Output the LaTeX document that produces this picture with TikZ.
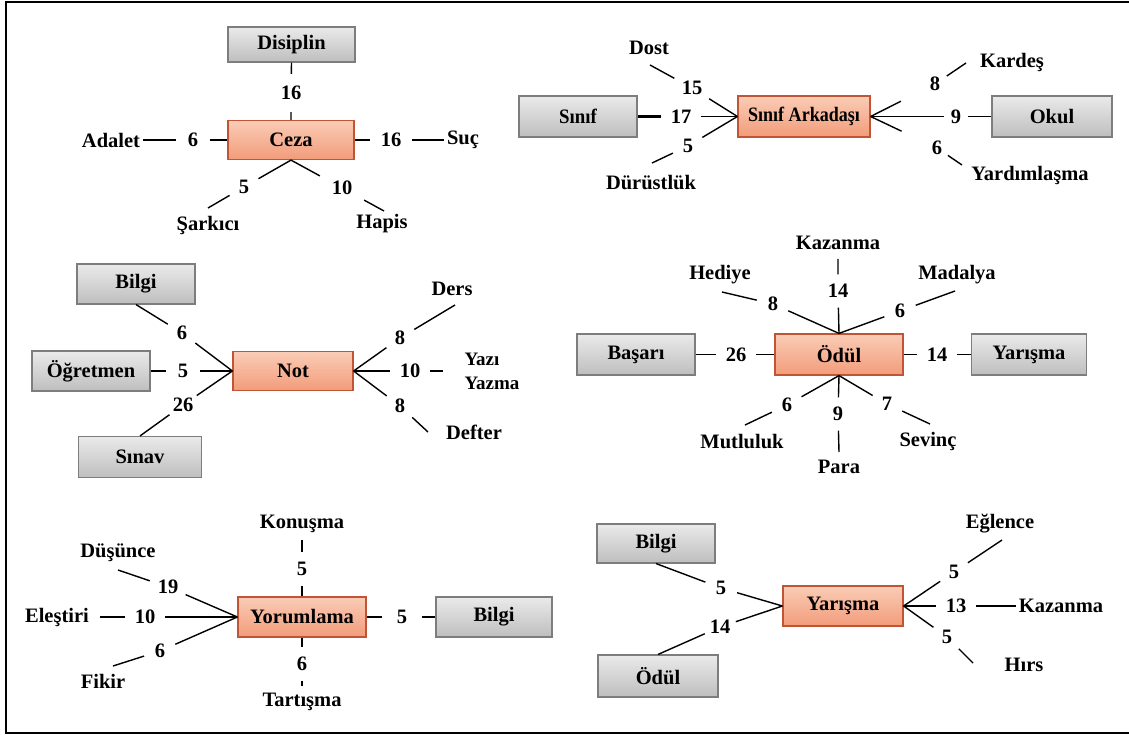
\documentclass[tikz,border=0pt]{standalone}
\usepackage{fontspec}
\setmainfont{Liberation Serif}
\definecolor{hubline}{RGB}{192,84,52}
\definecolor{hubtop}{RGB}{250,204,182}
\definecolor{hubbot}{RGB}{242,156,122}
\definecolor{boxline}{RGB}{125,125,125}
\definecolor{boxtop}{RGB}{234,234,234}
\definecolor{boxbot}{RGB}{190,190,190}
\begin{document}
\begin{tikzpicture}[x=1pt,y=-1pt,
  txt/.style={font=\fontsize{20.5}{23}\selectfont\bfseries},
  hub/.style={txt, draw=hubline, line width=1.2pt, top color=hubtop, bottom color=hubbot, inner sep=0pt},
  gbox/.style={txt, draw=boxline, line width=1.1pt, top color=boxtop, bottom color=boxbot, inner sep=0pt},
  lbl/.style={txt, inner sep=3pt},
  num/.style={txt, circle, inner sep=0pt, minimum size=33pt},
  spoke/.style={line width=1.4pt, black},
  thickspoke/.style={line width=2.6pt, black}]
\useasboundingbox (0,0) rectangle (1129,735);
\draw[line width=2.2pt] (1140,2) -- (6,2) -- (6,733) -- (1140,733);

% ---------------- Ceza ----------------
\node[hub, minimum width=126pt, minimum height=39pt] (ceza) at (291,140) {Ceza};
\node[gbox, minimum width=127pt, minimum height=35pt] (disiplin) at (291.5,44.5) {Disiplin};
\node[lbl] (adalet) at (111,140) {Adalet};
\node[lbl] (suc) at (463,140) {Suç};
\node[lbl] (sarkici) at (208,226) {Şarkıcı};
\node[lbl] (hapis) at (382,224) {Hapis};
\node[num, minimum size=38pt] (c1) at (291,93) {16};
\node[num] (c2) at (193,140) {6};
\node[num, minimum size=42pt] (c3) at (391,140) {16};
\node[num] (c4) at (244,187) {5};
\node[num, minimum size=50pt] (c5) at (342,188) {10};
\coordinate (esark) at (208,208);
\coordinate (ehap) at (384,211);
\draw[spoke] (disiplin.south) -- (c1) -- (ceza.north);
\draw[spoke] (adalet) -- (c2) -- (ceza.west);
\draw[spoke] (ceza.east) -- (c3) -- (suc);
\draw[spoke] (ceza.south) -- (c4) -- (esark);
\draw[spoke] (ceza.south) -- (c5) -- (ehap);

% ---------------- Sinif Arkadasi ----------------
\node[hub, minimum width=132pt, minimum height=41pt] (sa) at (804,116.5) {\scalebox{0.88}[1]{Sınıf Arkadaşı}};
\node[gbox, minimum width=118pt, minimum height=41pt] (sinif) at (578,116.5) {\scalebox{0.92}[1]{Sınıf}};
\node[gbox, minimum width=120pt, minimum height=41pt] (okul) at (1052,116.5) {Okul};
\node[lbl] (dost) at (649,48) {Dost};
\node[lbl] (durust) at (651,183) {Dürüstlük};
\node[lbl] (kardes) at (1012,63) {Kardeş};
\node[lbl] (yardim) at (1030,176) {Yardımlaşma};
\node[num, minimum size=40pt] (s1) at (692,88) {15};
\node[num, minimum size=40pt] (s2) at (681,116.5) {17};
\node[num] (s3) at (688,146) {5};
\node[num, minimum size=28pt] (s4) at (935,84) {8};
\node[num, minimum size=24pt] (s5) at (956,116.5) {9};
\node[num, minimum size=26pt] (s6) at (937,148) {6};
\coordinate (edost) at (650,65);
\coordinate (edurust) at (652,163);
\coordinate (ekardes) at (966,63);
\coordinate (eyardim) at (962,165);
\draw[spoke] (edost) -- (s1) -- (sa.west);
\draw[thickspoke] (sinif.east) -- (s2);
\draw[spoke] (s2) -- (sa.west);
\draw[spoke] (edurust) -- (s3) -- (sa.west);
\draw[spoke, shorten >=24pt] (sa.east) -- (s4);
\draw[spoke] (s4) -- (ekardes);
\draw[spoke] (sa.east) -- (s5) -- (okul.west);
\draw[spoke, shorten >=26pt] (sa.east) -- (s6);
\draw[spoke] (s6) -- (eyardim);

% ---------------- Not ----------------
\node[hub, minimum width=120pt, minimum height=39pt] (not) at (293,371) {Not};
\node[gbox, minimum width=118pt, minimum height=40pt] (bilgiA) at (136,284) {Bilgi};
\node[gbox, minimum width=118pt, minimum height=40pt] (ogret) at (91,371) {Öğretmen};
\node[gbox, minimum width=123pt, minimum height=41pt] (sinav) at (140,457) {Sınav};
\node[lbl] (ders) at (452,289) {Ders};
\node[lbl, align=left, font=\fontsize{19}{24}\selectfont\bfseries] (yazi) at (492,371) {Yazı\\Yazma};
\node[lbl] (defter) at (474,432) {Defter};
\node[num] (t1) at (182,333) {6};
\node[num] (t2) at (183,371) {5};
\node[num] (t3) at (183,405) {26};
\node[num] (t4) at (400,338) {8};
\node[num, minimum size=40pt] (t5) at (410,371) {10};
\node[num] (t6) at (400,406) {8};
\coordinate (eders) at (455,305);
\coordinate (eyazi) at (443,371);
\coordinate (edefter) at (428,432);
\draw[spoke] (bilgiA.south) -- (t1) -- (not.west);
\draw[spoke] (ogret.east) -- (t2) -- (not.west);
\draw[spoke] (sinav.north) -- (t3) -- (not.west);
\draw[spoke] (not.east) -- (t4) -- (eders);
\draw[spoke] (not.east) -- (t5) -- (eyazi);
\draw[spoke] (not.east) -- (t6) -- (edefter);

% ---------------- Odul ----------------
\node[hub, minimum width=128pt, minimum height=41pt] (odul) at (839,354.5) {Ödül};
\node[gbox, minimum width=118pt, minimum height=41pt] (basari) at (636,354.5) {Başarı};
\node[gbox, minimum width=115pt, minimum height=41pt] (yarismaB) at (1029,354.5) {Yarışma};
\node[lbl] (kazanmaA) at (838,243) {Kazanma};
\node[lbl] (hediye) at (720,275) {Hediye};
\node[lbl] (madalya) at (957,275) {Madalya};
\node[lbl] (mutluluk) at (742,442) {Mutluluk};
\node[lbl] (para) at (839,467) {Para};
\node[lbl] (sevinc) at (928,441) {Sevinç};
\node[num] (o1) at (838,291) {14};
\node[num] (o2) at (773,304) {8};
\node[num] (o3) at (900,311) {6};
\node[num, minimum size=40pt] (o4) at (736,354.5) {26};
\node[num, minimum size=40pt] (o5) at (937,354.5) {14};
\node[num] (o6) at (787,405) {6};
\node[num] (o7) at (838,414) {9};
\node[num] (o8) at (887,404) {7};
\coordinate (ekaz) at (838,259);
\coordinate (ehed) at (722,292);
\coordinate (emad) at (955,291);
\coordinate (emut) at (745,425);
\coordinate (epara) at (839,452);
\coordinate (esev) at (930,424);
\draw[spoke] (ekaz) -- (o1) -- (odul.north);
\draw[spoke] (ehed) -- (o2) -- (odul.north);
\draw[spoke] (emad) -- (o3) -- (odul.north);
\draw[spoke] (basari.east) -- (o4) -- (odul.west);
\draw[spoke] (odul.east) -- (o5) -- (yarismaB.west);
\draw[spoke] (odul.south) -- (o6) -- (emut);
\draw[spoke] (odul.south) -- (o7) -- (epara);
\draw[spoke] (odul.south) -- (o8) -- (esev);

% ---------------- Yorumlama ----------------
\node[hub, minimum width=128pt, minimum height=40pt] (yorum) at (302,617) {Yorumlama};
\node[gbox, minimum width=116pt, minimum height=40pt] (bilgiB) at (494,617) {Bilgi};
\node[lbl] (konusma) at (302,524) {Konuşma};
\node[lbl] (dusunce) at (118,553) {Düşünce};
\node[lbl] (elestiri) at (57,617) {Eleştiri};
\node[lbl] (fikir) at (103,681) {Fikir};
\node[lbl] (tartisma) at (302,702) {Tartışma};
\node[num] (y1) at (302,569) {5};
\node[num, minimum size=38pt] (y2) at (168,587) {19};
\node[num, minimum size=40pt] (y3) at (145,617) {10};
\node[num] (y4) at (160,651) {6};
\node[num, minimum size=40pt] (y5) at (402,617) {5};
\node[num] (y6) at (302,664) {6};
\coordinate (ekon) at (302,540);
\coordinate (edus) at (118,570);
\coordinate (eele) at (100,617);
\coordinate (efik) at (113,666);
\coordinate (etar) at (302,686);
\draw[spoke] (ekon) -- (y1) -- (yorum.north);
\draw[spoke] (edus) -- (y2) -- (yorum.west);
\draw[spoke] (eele) -- (y3) -- (yorum.west);
\draw[spoke] (efik) -- (y4) -- (yorum.west);
\draw[spoke] (yorum.east) -- (y5) -- (bilgiB.west);
\draw[spoke] (yorum.south) -- (y6) -- (etar);

% ---------------- Yarisma ----------------
\node[hub, minimum width=120pt, minimum height=40pt] (yar) at (843,606) {Yarışma};
\node[gbox, minimum width=118pt, minimum height=39pt] (bilgiC) at (656,543.5) {Bilgi};
\node[gbox, minimum width=120pt, minimum height=42pt] (odulB) at (658,676) {Ödül};
\node[lbl] (eglence) at (1000,524) {Eğlence};
\node[lbl] (kazanmaB) at (1061,606) {Kazanma};
\node[lbl] (hirs) at (1024,665) {Hırs};
\node[num] (r1) at (721,588) {5};
\node[num] (r2) at (720,627) {14};
\node[num] (r3) at (954,572) {5};
\node[num, minimum size=40pt] (r4) at (956,606) {13};
\node[num] (r5) at (947,637) {5};
\coordinate (eegl) at (1002,540);
\coordinate (ehirs) at (973,663);
\draw[spoke] (bilgiC.south) -- (r1) -- (yar.west);
\draw[spoke] (odulB.north) -- (r2) -- (yar.west);
\draw[spoke] (yar.east) -- (r3) -- (eegl);
\draw[spoke] (yar.east) -- (r4) -- (kazanmaB);
\draw[spoke] (yar.east) -- (r5) -- (ehirs);
\end{tikzpicture}
\end{document}
